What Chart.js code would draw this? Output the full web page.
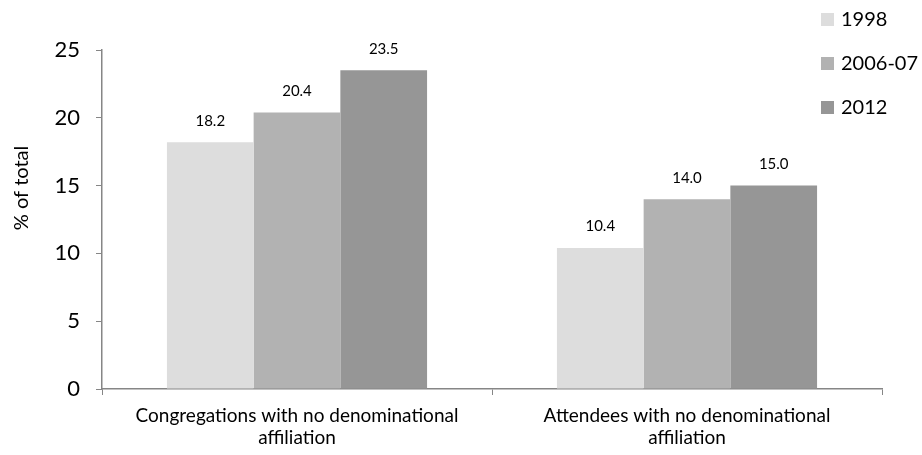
<!DOCTYPE html>
<html>
<head>
<meta charset="utf-8">
<script src="https://cdn.jsdelivr.net/npm/chart.js@4/dist/chart.umd.min.js"></script>
<style>
  html, body { margin: 0; padding: 0; background: #ffffff; }
  #wrap { width: 922px; height: 455px; position: relative; }
</style>
</head>
<body>
<div id="wrap"><canvas id="c" width="922" height="455"></canvas></div>
<script>
// Categories (multi-line labels) and series values
const categories = [
  ["Congregations with no denominational", "affiliation"],
  ["Attendees with no denominational", "affiliation"]
];
const seriesNames = ["1998", "2006-07", "2012"];
const values1998 = [18.2, 10.4];
const values2006 = [20.4, 14.0];
const values2012 = [23.5, 15.0];
const seriesColors = ["#dddddd", "#b2b2b2", "#969696"];
const yTicks = [0, 5, 10, 15, 20, 25];
const yTitle = "% of total";

const FONT = "Lato, 'Open Sans', 'Liberation Sans', sans-serif";

// Value labels above each bar
const valueLabels = {
  id: "valueLabels",
  afterDatasetsDraw(chart) {
    const ctx = chart.ctx;
    ctx.save();
    ctx.font = "15px " + FONT;
    ctx.fillStyle = "#000";
    ctx.textAlign = "center";
    ctx.textBaseline = "bottom";
    chart.data.datasets.forEach((ds, i) => {
      chart.getDatasetMeta(i).data.forEach((bar, j) => {
        ctx.fillText(ds.data[j].toFixed(1), bar.x, bar.y - 14);
      });
    });
    ctx.restore();
  }
};

// Vertical legend in the top-right corner, plus the rotated y-axis title
const cornerLegend = {
  id: "cornerLegend",
  afterDraw(chart) {
    const ctx = chart.ctx;
    ctx.save();
    ctx.font = "20px " + FONT;
    ctx.textAlign = "left";
    ctx.textBaseline = "middle";
    chart.data.datasets.forEach((ds, i) => {
      const cy = 19 + i * 44;
      ctx.fillStyle = ds.backgroundColor;
      ctx.fillRect(821, cy - 6, 13, 13);
      ctx.fillStyle = "#000";
      ctx.fillText(ds.label, 841, cy + 1);
    });
    // y-axis title, rotated
    ctx.translate(22, 188);
    ctx.rotate(-Math.PI / 2);
    ctx.font = "20px " + FONT;
    ctx.textAlign = "center";
    ctx.fillText(yTitle, 0, 0);
    ctx.restore();
  }
};

new Chart(document.getElementById("c"), {
  type: "bar",
  data: {
    labels: categories,
    datasets: [
      { label: seriesNames[0], data: values1998, backgroundColor: seriesColors[0] },
      { label: seriesNames[1], data: values2006, backgroundColor: seriesColors[1] },
      { label: seriesNames[2], data: values2012, backgroundColor: seriesColors[2] }
    ]
  },
  options: {
    responsive: false,
    animation: false,
    layout: { padding: { top: 50, right: 40, left: 0, bottom: 0 } },
    datasets: { bar: { categoryPercentage: 0.667, barPercentage: 1.0, borderWidth: 0 } },
    plugins: { legend: { display: false }, tooltip: { enabled: false } },
    scales: {
      x: {
        afterFit(s) { s.height = 66; },
        border: { display: true, color: "#868686", width: 1.5 },
        grid: { display: true, drawOnChartArea: false, drawTicks: true, tickLength: 6, color: "#868686", offset: true },
        ticks: { color: "#000", font: { family: FONT, size: 19, lineHeight: 1.17 }, padding: 10, maxRotation: 0 }
      },
      y: {
        min: 0, max: 25,
        afterFit(s) { s.width = 102; },
        afterBuildTicks(s) { s.ticks = yTicks.map(v => ({ value: v })); },
        border: { display: true, color: "#868686", width: 1.5 },
        grid: { display: true, drawOnChartArea: false, drawTicks: true, tickLength: 6, color: "#868686" },
        ticks: { color: "#000", font: { family: FONT, size: 22 }, padding: 16 }
      }
    }
  },
  plugins: [valueLabels, cornerLegend]
});
</script>
</body>
</html>
